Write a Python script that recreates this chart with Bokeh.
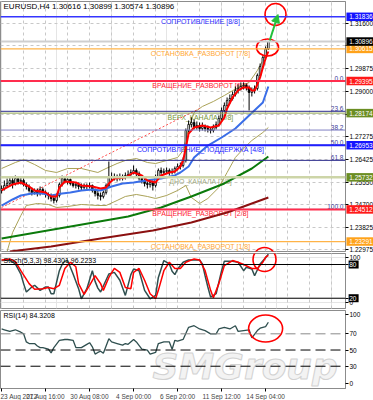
from bokeh.plotting import figure
from bokeh.layouts import column
from bokeh.models import (Range1d, FixedTicker, PrintfTickFormatter, Span, Label,
                          Arrow, NormalHead, Grid, ColumnDataSource)
from bokeh.embed import file_html
from bokeh.resources import INLINE
from bokeh.core.properties import value

FONT = "Liberation Sans"

# ---------------- data (EURUSD H4, bar index 0 = 23 Aug 2012 00:00) ----------------
opens = [1.25232,1.25308,1.25422,1.25498,1.25612,1.25498,1.25688,1.25574,1.25612,1.25460,
         1.25384,1.25232,1.25156,1.25232,1.25118,1.25270,1.25156,1.25080,1.25042,1.24928,
         1.24852,1.25042,1.25460,1.25688,1.25574,1.25650,1.25498,1.25422,1.25460,1.25384,
         1.25346,1.25422,1.25384,1.25422,1.25232,1.25118,1.25042,1.25004,1.25156,1.25422,
         1.25726,1.25764,1.25726,1.25688,1.25764,1.25726,1.25802,1.25840,1.25916,1.25992,
         1.25878,1.25688,1.25612,1.25498,1.25460,1.25536,1.25422,1.25764,1.25992,1.25916,
         1.25954,1.25992,1.25916,1.25954,1.26068,1.26144,1.26182,1.26372,1.27514,1.27742,
         1.27818,1.27628,1.27704,1.27590,1.27666,1.27590,1.27552,1.27514,1.27628,1.27742,
         1.27970,1.28274,1.28464,1.28654,1.28730,1.28882,1.29034,1.29111,1.29187,1.29225,
         1.29149,1.28958,1.29034,1.29111,1.29605,1.29947,1.30289,1.30616]
closes = [1.25308,1.25422,1.25498,1.25612,1.25498,1.25688,1.25574,1.25612,1.25460,1.25384,
          1.25232,1.25156,1.25232,1.25118,1.25270,1.25156,1.25080,1.25042,1.24928,1.24852,
          1.25042,1.25460,1.25688,1.25574,1.25650,1.25498,1.25422,1.25460,1.25384,1.25346,
          1.25422,1.25384,1.25422,1.25232,1.25118,1.25042,1.25004,1.25156,1.25422,1.25726,
          1.25764,1.25726,1.25688,1.25764,1.25726,1.25802,1.25840,1.25916,1.25992,1.25878,
          1.25688,1.25612,1.25498,1.25460,1.25536,1.25422,1.25764,1.25992,1.25916,1.25954,
          1.25992,1.25916,1.25954,1.26068,1.26144,1.26182,1.26372,1.27514,1.27742,1.27818,
          1.27628,1.27704,1.27590,1.27666,1.27590,1.27552,1.27514,1.27628,1.27742,1.27970,
          1.28274,1.28464,1.28654,1.28730,1.28882,1.29034,1.29111,1.29187,1.29225,1.29149,
          1.28958,1.29034,1.29111,1.29605,1.29947,1.30289,1.30616,1.30896]
highs = [1.25422,1.25612,1.25688,1.25764,1.25726,1.25802,1.25764,1.25726,1.25688,1.25536,
         1.25460,1.25346,1.25308,1.25308,1.25384,1.25346,1.25232,1.25156,1.25118,1.25004,
         1.25118,1.25536,1.25802,1.25764,1.25726,1.25688,1.25574,1.25536,1.25536,1.25498,
         1.25498,1.25498,1.25536,1.25460,1.25308,1.25232,1.25156,1.25232,1.25498,1.26334,
         1.25916,1.25878,1.25840,1.25878,1.25840,1.25916,1.25992,1.26030,1.26182,1.26068,
         1.25954,1.25764,1.25688,1.25574,1.25612,1.25612,1.25840,1.26068,1.26106,1.26068,
         1.26106,1.26068,1.26068,1.26144,1.26258,1.26296,1.26486,1.27590,1.27894,1.28008,
         1.27932,1.27856,1.27818,1.27818,1.27742,1.27704,1.27628,1.27742,1.27856,1.28084,
         1.28388,1.28578,1.28768,1.28882,1.28996,1.29187,1.29263,1.29339,1.29339,1.29301,
         1.29225,1.29149,1.29225,1.29681,1.30061,1.30365,1.30707,1.30899]
lows = [1.25118,1.25232,1.25346,1.25384,1.25308,1.25422,1.25460,1.25460,1.25384,1.25270,
        1.25156,1.25042,1.25080,1.25004,1.25042,1.25080,1.24966,1.24890,1.24814,1.24738,
        1.24776,1.24966,1.25384,1.25498,1.25460,1.25422,1.25346,1.25308,1.25270,1.25232,
        1.25270,1.25270,1.25308,1.25156,1.25004,1.24890,1.24852,1.24928,1.25080,1.25346,
        1.25612,1.25612,1.25574,1.25612,1.25612,1.25650,1.25726,1.25764,1.25840,1.25764,
        1.25612,1.25498,1.25384,1.25308,1.25346,1.25232,1.25346,1.25688,1.25802,1.25840,
        1.25878,1.25802,1.25840,1.25878,1.25992,1.26030,1.26106,1.26296,1.27438,1.27628,
        1.27552,1.27552,1.27476,1.27514,1.27476,1.27438,1.27400,1.27438,1.27552,1.27666,
        1.27894,1.28198,1.28388,1.28540,1.28654,1.28806,1.28920,1.29034,1.29073,1.29034,
        1.28274,1.28806,1.28920,1.29034,1.29529,1.29871,1.30213,1.30574]
bars = list(range(len(closes)))

red_idx = [0,4,7,10,12,16,18,20,21,23,27,29,33,36,38,39,41,45,48,51,53,56,58,61,63,65,66,67,68,70,
           73,76,79,81,82,84,86,88,90,91,92,93,94,95,96,97]
red_val = [1.25232,1.25460,1.25536,1.25384,1.25232,1.25156,1.25004,1.25004,1.25346,1.25574,
           1.25536,1.25422,1.25384,1.25308,1.25346,1.25498,1.25688,1.25726,1.25916,1.25802,
           1.25612,1.25536,1.25802,1.25916,1.25954,1.26144,1.26372,1.26866,1.27400,1.27628,
           1.27704,1.27628,1.27704,1.28008,1.28350,1.28768,1.29034,1.29149,1.29149,1.29034,
           1.29034,1.29263,1.29529,1.29909,1.30251,1.30517]
blue_idx = [0,4,7,11,15,18,22,25,29,33,36,40,44,48,55,58,63,65,68,70,75,80,85,90,95,97]
blue_val = [1.24661,1.24890,1.25042,1.25118,1.25118,1.25042,1.25118,1.25156,1.25232,1.25270,
            1.25232,1.25384,1.25498,1.25536,1.25650,1.25688,1.25802,1.25916,1.26144,1.26486,
            1.26942,1.27247,1.27590,1.28084,1.28578,1.29187]
green_idx = [0,23,46,58,69,81,91,97]
green_val = [1.23406,1.23825,1.24243,1.24585,1.25004,1.25498,1.26068,1.26524]
brown_idx = [3,18,36,55,69,82,97]
brown_val = [1.22912,1.23102,1.23406,1.23711,1.24015,1.24395,1.24966]
bb_up_idx = [0,5,8,12,16,20,24,29,35,38,42,45,49,53,56,60,64,66,68,70,73,77,81,86,90,93,96,97]
bb_up_val = [1.26068,1.26296,1.26410,1.26220,1.25992,1.25916,1.26068,1.26068,1.25916,1.26068,
             1.26258,1.26372,1.26448,1.26296,1.26258,1.26372,1.26486,1.26753,1.27590,1.28198,
             1.28426,1.28616,1.28844,1.29149,1.29339,1.29795,1.30365,1.30859]
bb_lo_idx = [2,4,7,9,13,17,20,24,29,35,38,42,45,49,53,56,60,64,67,69,72,75,79,82,85,88,91,95,97]
bb_lo_val = [1.22912,1.23635,1.24281,1.24661,1.24738,1.24700,1.24585,1.24623,1.24700,1.24661,
             1.24661,1.24852,1.25004,1.25080,1.25004,1.24928,1.25042,1.25232,1.25422,1.24966,
             1.24738,1.24928,1.25346,1.25916,1.26486,1.26828,1.27133,1.27438,1.27628]
trend_idx = [0, 72]
trend_val = [1.24585, 1.28350]

murrey_prices = [1.31836, 1.30615, 1.29395, 1.28174, 1.26953, 1.25732, 1.24512, 1.23291]
murrey_names = ["СОПРОТИВЛЕНИЕ [8/8]", "ОСТАНОВКА_РАЗВОРОТ [7/8]", "ВРАЩЕНИЕ_РАЗВОРОТ [6/8]",
                "ВЕРХ_КАНАЛА [5/8]", "СОПРОТИВЛЕНИЕ_ПОДДЕРЖКА [4/8]", "ДНО_КАНАЛА [3/8]",
                "ВРАЩЕНИЕ_РАЗВОРОТ [2/8]", "ОСТАНОВКА_РАЗВОРОТ [1/8]"]
murrey_line_colors = ["#3535ff", "#ffb347", "#ff2d4d", "#8da24f", "#1f1fff", "#cdd5a8", "#ff2d4d", "#ffb347"]
murrey_text_colors = ["#2f2fff", "#ffa733", "#ff2030", "#789638", "#2020ff", "#a2aa84", "#ff2030", "#ffa733"]
murrey_line_widths = [1.5, 1.2, 2, 1, 2, 2.5, 2, 1.2]
murrey_box_colors = ["#1414ff", "#ffa21a", "#ff1a1a", "#6b8e23", "#1414ff", "#6b8e23", "#ff1a1a", "#ffa21a"]

fib_prices = [1.29395, 1.28243, 1.27530, 1.26953, 1.26377, 1.24512]
fib_labels = ["0.0", "23.6", "38.2", "50.0", "61.8", "100.0"]
fib_colors = ["#2d2d8c", "#2d2d8c", "#8080c4", "#2d2d8c", "#2d2d8c", "#2d2d8c"]

bid_price = 1.30896
price_ticks = [1.31600, 1.30738, 1.29875, 1.29000, 1.28138, 1.27275, 1.26425, 1.25550,
               1.24700, 1.23825, 1.22975]

stoch_k_idx = [0,3,5,7,8,9,11,12,14,16,17,18,19,21,22,23,24,26,28,29,31,33,34,35,36,39,41,43,45,47,
               48,50,52,54,56,57,59,61,62,63,64,66,68,72,73,74,75,76,78,80,81,84,86,88,89,91,92,94,96,97]
stoch_k_val = [87,88,81,63,46,31,40,43,34,40,40,28,28,69,80,86,87,63,37,19,37,69,50,38,31,63,66,52,25,62,
               72,69,34,19,25,57,87,81,68,62,72,84,88,88,81,60,40,22,28,69,86,86,84,69,75,72,60,81,92,98.43]
stoch_d_idx = [0,3,5,7,10,12,15,17,19,21,23,25,27,28,30,32,34,36,37,39,41,43,45,47,48,50,52,54,56,57,
               59,61,63,65,67,70,72,74,76,77,79,81,84,86,88,91,93,95,96,97]
stoch_d_val = [88,90,85,69,46,36,37,39,37,43,73,84,76,46,27,43,60,46,34,57,73,66,39,37,66,73,52,28,19,34,
               69,84,73,73,84,90,88,69,34,21,46,78,87,84,80,73,73,84,93,96.22]
stoch_levels = [80, 20]
stoch_tick_pos = [93, 80, 20, 12.9]
stoch_tick_text = ["100", "80", "20", "0"]

rsi_idx = [0,1,3,5,7,8,9,10,12,13,14,15,17,18,19,21,23,24,26,27,29,31,32,33,34,35,36,37,39,40,
           42,44,45,46,48,49,51,53,54,56,57,59,61,62,63,64,66,68,70,72,74,76,78,79,81,83,85,86,88,90,
           91,93,94,96,97]
rsi_val = [76,75,73,75,72,70,60,58,58,55,53,53,51,46.5,53,62,63,63,62,53,53,57,59,54,45,47,48.5,46,64,60,
           58,56,58,57,63,60,51,50,45,47,58,60,60,51,62,61,63,78,80,76,74,70,70,76,78,76,80,73,74,75,
           65,74,77,79,84.32]
rsi_levels = [70, 50, 30]
rsi_tick_pos = [93.5, 70, 50, 30, 8.3]
rsi_tick_text = ["100", "70", "50", "30", "0"]

time_tick_bars = [0, 16, 32, 48, 64, 80, 96]
time_tick_text = ["23 Aug 2012", "27 Aug 16:00", "30 Aug 08:00", "4 Sep 00:00",
                  "6 Sep 20:00", "11 Sep 12:00", "14 Sep 04:00"]
grid_bars = [8, 16, 24, 32, 40, 48, 56, 64, 72, 80, 88, 96, 104, 112, 120]

# ---------------- styling helpers ----------------
xr = Range1d(-0.4, 125.05)
BOX_XC = 130.3     # centre of price boxes (in the right-hand scale strip)
BOX_XT = 126.4     # left edge of box text


def make_fig(fh, y0, y1, with_xaxis):
    p = figure(frame_width=345, frame_height=fh, x_range=xr, y_range=Range1d(y0, y1),
               y_axis_location="right", x_axis_location=("below" if with_xaxis else None),
               output_backend="svg", toolbar_location=None,
               min_border_left=0, min_border_right=28, min_border_top=1,
               min_border_bottom=(0 if with_xaxis else 1),
               background_fill_color="white", border_fill_color="white",
               outline_line_color="#8c8c8c", outline_line_width=1)
    p.add_layout(Grid(dimension=0, ticker=FixedTicker(ticks=grid_bars),
                      grid_line_color="#c8c8c8", grid_line_dash="3 3"))
    ax = p.yaxis[0]
    ax.major_label_text_font = FONT
    ax.major_label_text_font_size = "6.5px"
    ax.major_label_text_color = "#000000"
    ax.major_tick_out = 3
    ax.major_tick_in = 0
    ax.minor_tick_line_color = None
    ax.axis_line_color = "#8c8c8c"
    ax.major_label_standoff = 1
    return p


def price_boxes(p, ys, colors, texts, w):
    bsrc = ColumnDataSource(dict(x=[BOX_XC] * len(ys), xt=[BOX_XT] * len(ys), y=ys,
                                 c=colors, t=texts))
    p.rect(x="x", y="y", width=w, height=8.5, width_units="screen", height_units="screen",
           fill_color="c", line_color=None, source=bsrc, level="overlay")
    p.text(x="xt", y="y", text="t", source=bsrc, text_color="#ffffff", text_font=value(FONT),
           text_font_size="6.5px", text_baseline="middle", text_align="left", level="overlay")


# ---------------- main price panel ----------------
p1 = make_fig(250, 1.22912, 1.32418, False)
p1.ygrid.grid_line_color = "#c8c8c8"
p1.ygrid.grid_line_dash = "3 3"
p1.yaxis.ticker = FixedTicker(ticks=price_ticks)
p1.yaxis.formatter = PrintfTickFormatter(format="%.5f")

for pr, col in zip(fib_prices, fib_colors):
    p1.add_layout(Span(location=pr, dimension="width", line_color=col, line_width=1))
for pr, col, w in zip(murrey_prices, murrey_line_colors, murrey_line_widths):
    p1.add_layout(Span(location=pr, dimension="width", line_color=col, line_width=w))
p1.add_layout(Span(location=bid_price, dimension="width", line_color="#cfcfcf", line_width=2))

p1.text(x=[72.3] * len(murrey_names), y=murrey_prices, text=murrey_names,
        text_color=murrey_text_colors, text_font=value(FONT), text_font_size="7px",
        text_align="center", text_baseline="top", y_offset=1)
p1.text(x=[124.3] * len(fib_labels), y=fib_prices, text=fib_labels,
        text_color="#3c3c96", text_font=value(FONT), text_font_size="6.5px",
        text_align="right", text_baseline="bottom", y_offset=-0.5)

p1.line(bb_up_idx, bb_up_val, line_color="#aaa257", line_width=1)
p1.line(bb_lo_idx, bb_lo_val, line_color="#aaa257", line_width=1)
p1.line(brown_idx, brown_val, line_color="#8b1010", line_width=2)
p1.line(green_idx, green_val, line_color="#0b7a0b", line_width=2)
p1.line(trend_idx, trend_val, line_color="#ff5050", line_width=1, line_dash="2 2")

src = ColumnDataSource(dict(
    x=bars, o=opens, h=highs, l=lows, c=closes,
    top=[max(a, b) for a, b in zip(opens, closes)],
    bot=[min(a, b) for a, b in zip(opens, closes)],
    fill=["#ffffff" if c >= o else "#000000" for o, c in zip(opens, closes)]))
p1.segment(x0="x", y0="l", x1="x", y1="h", source=src, line_color="#000000", line_width=1)
p1.vbar(x="x", width=0.6, top="top", bottom="bot", source=src, fill_color="fill",
        line_color="#000000", line_width=0.8)

p1.line(blue_idx, blue_val, line_color="#3a6ee8", line_width=2)
p1.line(red_idx, red_val, line_color="#ff0000", line_width=2)

p1.add_layout(Arrow(end=NormalHead(size=8, fill_color="#22c03a", line_color="#22c03a"),
                    x_start=97.5, y_start=1.30935, x_end=100.5, y_end=1.31924,
                    line_color="#22c03a", line_width=2))
p1.ellipse(x=[96.7, 99.6, 95.6], y=[1.30669, 1.31924, 1.22608], width=[22, 21, 23], height=[17, 22, 24],
           width_units="screen", height_units="screen", fill_color=None,
           line_color="#ff0000", line_width=1.6)

p1.add_layout(Label(x=0.7, y=1.32228, text="EURUSD,H4  1.30616 1.30899 1.30574 1.30896",
                    text_font=FONT, text_font_size="8px", text_color="#000000",
                    text_baseline="middle"))
box_prices = murrey_prices + [bid_price]
box_colors = murrey_box_colors + ["#000000"]
price_boxes(p1, box_prices, box_colors, ["%.5f" % v for v in box_prices], 27)

# ---------------- stochastic panel ----------------
p2 = make_fig(55, 1.7, 99.6, False)
p2.yaxis.ticker = FixedTicker(ticks=stoch_tick_pos)
p2.yaxis.major_label_overrides = dict(zip(stoch_tick_pos, stoch_tick_text))
for lv in stoch_levels:
    p2.add_layout(Span(location=lv, dimension="width", line_color="#000000", line_width=1))
p2.line(stoch_k_idx, stoch_k_val, line_color="#2f4f4f", line_width=1.5)
p2.line(stoch_d_idx, stoch_d_val, line_color="#ff0000", line_width=1.5)
p2.ellipse(x=[95.6], y=[89], width=23, height=24, width_units="screen", height_units="screen",
           fill_color=None, line_color="#ff0000", line_width=1.6)
p2.add_layout(Label(x=0.7, y=87, text="Stoch(5,3,3) 98.4301 96.2233", text_font=FONT,
                    text_font_size="7px", text_color="#000000", text_baseline="middle"))
bsrc2 = ColumnDataSource(dict(x=[128.0] * 2, xt=[126.4] * 2, y=stoch_levels,
                              t=[str(v) for v in stoch_levels]))
p2.rect(x="x", y="y", width=10, height=8, width_units="screen", height_units="screen",
        fill_color="#000000", line_color=None, source=bsrc2, level="overlay")
p2.text(x="xt", y="y", text="t", source=bsrc2, text_color="#ffffff", text_font=value(FONT),
        text_font_size="6.5px", text_baseline="middle", text_align="left", level="overlay")

# ---------------- RSI panel ----------------
p3 = make_fig(78, 2.5, 98.8, True)
p3.yaxis.ticker = FixedTicker(ticks=rsi_tick_pos)
p3.yaxis.major_label_overrides = dict(zip(rsi_tick_pos, rsi_tick_text))
p3.xgrid.visible = False
p3.ygrid.visible = False
for lv, col in zip(rsi_levels, ["#8a8a8a", "#000000", "#000000"]):
    p3.add_layout(Span(location=lv, dimension="width", line_color=col, line_width=1,
                       line_dash="10 5"))
p3.add_layout(Label(x=54.9, y=3.8, text="SMGroup", text_font="DejaVu Sans", text_font_size="36px",
                    text_font_style="bold italic", text_color="#f3f3f3",
                    text_outline_color="#d2d2d2", text_baseline="bottom", level="underlay"))
p3.line(rsi_idx, rsi_val, line_color="#2f4f4f", line_width=1.3)
p3.ellipse(x=[96.0], y=[76.5], width=34, height=27, width_units="screen", height_units="screen",
           fill_color=None, line_color="#ff0000", line_width=1.6)
p3.add_layout(Label(x=0.7, y=92.6, text="RSI(14) 84.3208", text_font=FONT,
                    text_font_size="7px", text_color="#000000", text_baseline="middle"))
xa = p3.xaxis[0]
xa.ticker = FixedTicker(ticks=time_tick_bars)
xa.major_label_overrides = dict(zip(time_tick_bars, time_tick_text))
xa.major_label_text_font = FONT
xa.major_label_text_font_size = "6.5px"
xa.major_label_text_align = "left"
xa.major_tick_out = 3
xa.major_tick_in = 0
xa.minor_tick_line_color = None
xa.axis_line_color = "#8c8c8c"
xa.major_label_standoff = 1

layout = column(p1, p2, p3, spacing=0)
open("out.html", "w").write(file_html(layout, INLINE))
